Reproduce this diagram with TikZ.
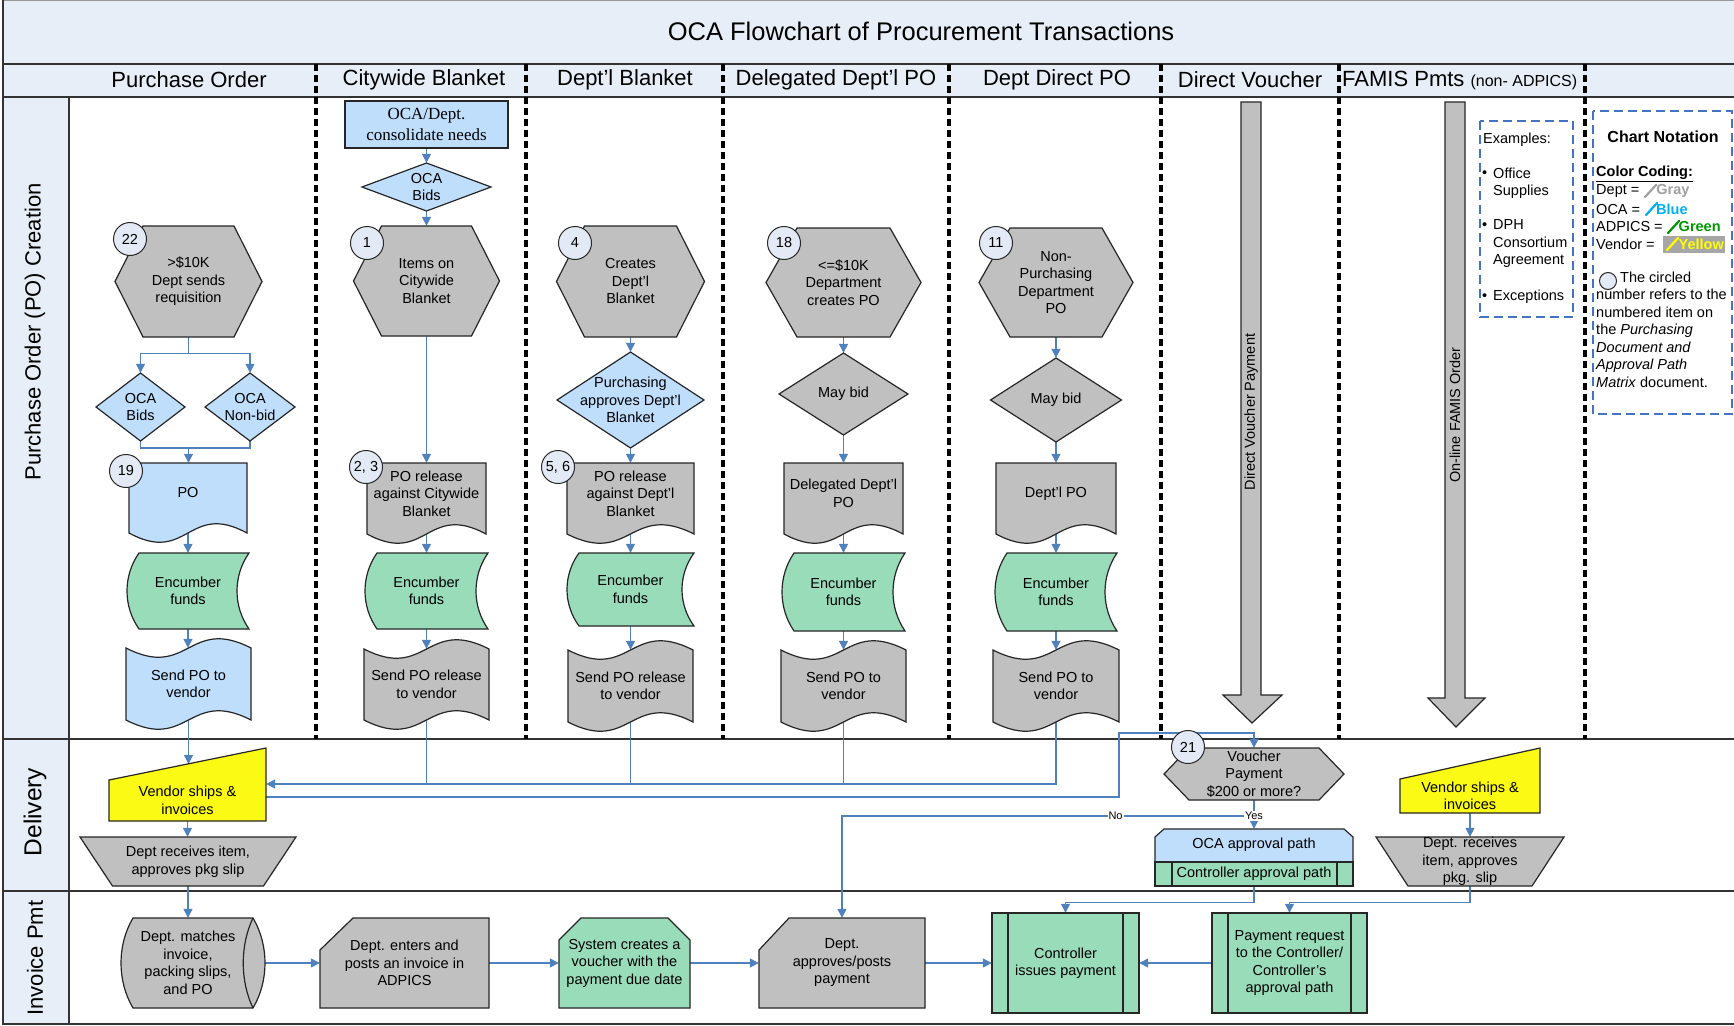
\documentclass[tikz,border=0pt]{standalone}
\usepackage{fontspec}
\setmainfont{Liberation Sans}
\newfontfamily\serifF{Liberation Serif}
\usetikzlibrary{arrows.meta,calc}
\pgfdeclarelayer{back}
\pgfdeclarelayer{bg}
\pgfsetlayers{back,bg,main}
\definecolor{bgblue}{RGB}{231,238,248}
\definecolor{bluef}{RGB}{191,222,252}
\definecolor{greenf}{RGB}{153,220,186}
\definecolor{grayf}{RGB}{192,192,192}
\definecolor{yellowf}{RGB}{250,250,20}
\definecolor{circfill}{RGB}{228,234,245}
\definecolor{linkblue}{RGB}{79,129,189}
\definecolor{dashblue}{RGB}{68,114,196}
\definecolor{penGray}{RGB}{160,160,160}
\definecolor{penBlue}{RGB}{0,176,240}
\definecolor{penGreen}{RGB}{0,150,0}
\definecolor{penYellow}{RGB}{255,255,0}
\definecolor{hlgray}{RGB}{166,166,166}
\newcommand\nodefont{\fontsize{14.5pt}{17.5pt}\selectfont}
\tikzset{
 shp/.style={draw=black!85, line width=1.2pt, line join=miter},
 txt/.style={inner sep=0pt, align=center, font=\nodefont},
 conn/.style={draw=linkblue, line width=1.3pt, -{Triangle[width=9pt,length=9pt]}},
 wire/.style={draw=linkblue, line width=1.3pt},
 circ/.style={circle, draw=black!85, line width=1pt, fill=circfill, minimum size=33pt, inner sep=0pt, font=\nodefont},
 divider/.style={line width=3.5pt, dash pattern=on 7pt off 4pt},
 frameline/.style={draw=black!80, line width=1.8pt},
 dashbox/.style={draw=dashblue, line width=2.2pt, dash pattern=on 9pt off 5pt},
 lbl/.style={font=\fontsize{11pt}{13pt}\selectfont, fill=white, inner sep=1pt},
 hdr/.style={font=\fontsize{22pt}{26pt}\selectfont, inner sep=0pt},
 legend/.style={font=\nodefont, inner sep=0pt, anchor=west, align=left},
 pencil/.style={line width=2.2pt, line cap=round},
}
% Hexagon: name cx cy w h d fill text
\newcommand\HexN[8]{%
 \draw[shp, fill=#7] (#2-#4/2,#3) -- (#2-#4/2+#6,#3-#5/2) -- (#2+#4/2-#6,#3-#5/2) -- (#2+#4/2,#3) -- (#2+#4/2-#6,#3+#5/2) -- (#2-#4/2+#6,#3+#5/2) -- cycle;
 \node[txt, minimum width=#4pt, minimum height=#5pt] (#1) at (#2,#3) {#8};}
% Diamond: name cx cy w h fill text
\newcommand\DiaN[7]{%
 \draw[shp, fill=#6] (#2-#4/2,#3) -- (#2,#3-#5/2) -- (#2+#4/2,#3) -- (#2,#3+#5/2) -- cycle;
 \node[txt, minimum width=#4pt, minimum height=#5pt] (#1) at (#2,#3) {#7};}
% Document: name L T R B fill text
\newcommand\DocN[7]{%
 \draw[shp, fill=#6] (#2,#3) -- (#4,#3) -- (#4,#5) .. controls ({(#2+#4)/2},#5-32) and ({(#2+#4)/2},#5+32) .. (#2,#5) -- cycle;
 \node[txt, minimum width=#4pt-#2pt, minimum height=#5pt-#3pt-10pt] (#1) at ({(#2+#4)/2},{(#3+#5-10)/2}) {#7};}
% Punched tape: name L T R B fill text
\newcommand\TapeN[7]{%
 \draw[shp, fill=#6] (#2,#3) .. controls ({(#2+#4)/2},#3+32) and ({(#2+#4)/2},#3-32) .. (#4,#3) -- (#4,#5) .. controls ({(#2+#4)/2},#5-32) and ({(#2+#4)/2},#5+32) .. (#2,#5) -- cycle;
 \node[txt, minimum width=#4pt-#2pt, minimum height=#5pt-#3pt] (#1) at ({(#2+#4)/2},{(#3+#5)/2}) {#7};}
% Stored data: name X0 T X1 B fill text
\newcommand\StoreN[7]{%
 \draw[shp, fill=#6] (#2+12,#3) -- (#4,#3) .. controls (#4-16,{#3+0.3*(#5-#3)}) and (#4-16,{#5-0.3*(#5-#3)}) .. (#4,#5) -- (#2+12,#5) .. controls (#2-4,{#5-0.3*(#5-#3)}) and (#2-4,{#3+0.3*(#5-#3)}) .. (#2+12,#3) -- cycle;
 \node[txt, minimum width=#4pt-#2pt, minimum height=#5pt-#3pt] (#1) at ({(#2+#4)/2},{(#3+#5)/2}) {#7};}
% Trapezoid: name cx T B tw bw fill text
\newcommand\TrapN[8]{%
 \draw[shp, fill=#7] (#2-#5/2,#3) -- (#2+#5/2,#3) -- (#2+#6/2,#4) -- (#2-#6/2,#4) -- cycle;
 \node[txt, minimum width=#6pt, minimum height=#4pt-#3pt] (#1) at (#2,{(#3+#4)/2}) {#8};}
% Manual input: name L TL R TR B fill text
\newcommand\ManN[8]{%
 \draw[shp, fill=#7] (#2,#3) -- (#4,#5) -- (#4,#6) -- (#2,#6) -- cycle;
 \node[txt, minimum width=#4pt-#2pt, minimum height=#6pt-#3pt] (#1) at ({(#2+#4)/2},{(#3+#6)/2}) {#8};}
% Card: name L T R B cx cy fill text
\newcommand\CardN[9]{%
 \draw[shp, fill=#8] (#2,#3+#7) -- (#2+#6,#3) -- (#4,#3) -- (#4,#5) -- (#2,#5) -- cycle;
 \node[txt, minimum width=#4pt-#2pt, minimum height=#5pt-#3pt] (#1) at ({(#2+#4)/2},{(#3+#5)/2}) {#9};}
% Top-chamfered box: name L T R B c fill text
\newcommand\ChamN[8]{%
 \draw[shp, fill=#7] (#2,#3+#6) -- (#2+#6,#3) -- (#4-#6,#3) -- (#4,#3+#6) -- (#4,#5) -- (#2,#5) -- cycle;
 \node[txt, minimum width=#4pt-#2pt, minimum height=#5pt-#3pt] (#1) at ({(#2+#4)/2},{(#3+#5)/2}) {#8};}
% Predefined process: name L T R B inset fill text
\newcommand\PredN[8]{%
 \draw[shp, fill=#7] (#2,#3) rectangle (#4,#5);
 \draw[shp] (#2+#6,#3) -- (#2+#6,#5) (#4-#6,#3) -- (#4-#6,#5);
 \node[txt, minimum width=#4pt-#2pt, minimum height=#5pt-#3pt] (#1) at ({(#2+#4)/2},{(#3+#5)/2}) {#8};}
\newcommand\vconn[2]{\draw[conn] (#1.south) -- (#1.south |- #2.north);}

\begin{document}
\begin{tikzpicture}[x=1pt,y=-1pt]
\useasboundingbox (0,0) rectangle (1734,1025);

\begin{pgfonlayer}{back}
\fill[white] (0,0) rectangle (1734,1025);
\fill[bgblue] (3,0) rectangle (1734,97);
\fill[bgblue] (3,97) rectangle (69,1024);
\draw[black!40, line width=1pt] (3,0.8) -- (1734,0.8);
\draw[frameline] (3,0) -- (3,1024) -- (1734,1024);
\foreach \yy in {64,97,739,891} \draw[frameline] (3,\yy) -- (1734,\yy);
\draw[frameline] (69,97) -- (69,1024);
\foreach \xx in {316,526,723,949,1161,1339,1585} \draw[divider] (\xx,64) -- (\xx,739);
\end{pgfonlayer}

% title, headers, lanes
\node[font=\fontsize{25.5pt}{30pt}\selectfont, inner sep=0pt] (title) at (921,31) {OCA Flowchart of Procurement Transactions};
\node[hdr] (hdPO) at (189,80) {Purchase Order};
\node[hdr] (hdCW) at (424,80) {Citywide Blanket};
\node[hdr] (hdDB) at (625,80) {Dept’l Blanket};
\node[hdr] (hdDL) at (836,80) {Delegated Dept’l PO};
\node[hdr] (hdDD) at (1057,80) {Dept Direct PO};
\node[hdr] (hdDV) at (1250,80) {Direct Voucher};
\node[hdr, anchor=west] (hdFA) at (1342,80) {FAMIS Pmts {\fontsize{16pt}{18pt}\selectfont (non- ADPICS)}};
\node[hdr, rotate=90] (lnPO) at (35,332) {Purchase Order (PO) Creation};
\node[font=\fontsize{24.5pt}{28pt}\selectfont, inner sep=0pt, rotate=90] (lnDL) at (35,812) {Delivery};
\node[hdr, rotate=90] (lnIP) at (35,958) {Invoice Pmt};

% Column 1
\HexN{h22}{188.5}{281.5}{147}{111}{28}{grayf}{>\$10K\\Dept sends\\requisition}
\DiaN{dBid1}{140.5}{407}{89}{68}{bluef}{OCA\\Bids}
\DiaN{dNon}{250}{407}{90}{68}{bluef}{OCA\\Non-bid}
\DocN{po}{129}{463}{247}{533}{bluef}{PO}
\StoreN{enc1}{127}{553}{249}{629}{greenf}{Encumber\\funds}
\TapeN{s1}{126}{648}{251}{720}{bluef}{Send PO to\\vendor}

% Column 2
\draw[shp, fill=bluef] (345,101) rectangle (508,148);
\node[txt, font=\serifF\fontsize{17pt}{21pt}\selectfont, minimum width=163pt, minimum height=47pt] (cons) at (426.5,124.5) {OCA/Dept.\\consolidate needs};
\DiaN{dBid2}{426.5}{187}{129}{48}{bluef}{OCA\\Bids}
\HexN{hItems}{426.5}{281}{146}{110}{28}{grayf}{Items on\\Citywide\\Blanket}
\DocN{rel2}{367}{463}{486}{534}{grayf}{PO release\\against Citywide\\Blanket}
\StoreN{enc2}{365}{553}{488}{629}{greenf}{Encumber\\funds}
\TapeN{s2}{364}{649}{489}{720}{grayf}{Send PO release\\to vendor}

% Column 3
\HexN{hCre}{630.5}{281.5}{148}{111}{28}{grayf}{Creates\\Dept’l\\Blanket}
\DiaN{dPur}{630.5}{400}{147}{96}{bluef}{Purchasing\\approves Dept’l\\Blanket}
\DocN{rel3}{567}{463}{694}{534}{grayf}{PO release\\against Dept’l\\Blanket}
\StoreN{enc3}{567}{553}{694}{626}{greenf}{Encumber\\funds}
\TapeN{s3}{568}{650}{693}{722}{grayf}{Send PO release\\to vendor}

% Column 4
\HexN{h18}{843.5}{282.5}{155}{109}{31}{grayf}{<=\$10K\\Department\\creates PO}
\DiaN{dMay4}{843.5}{394}{129}{82}{grayf}{May bid}
\DocN{del4}{784}{463}{903}{534}{grayf}{Delegated Dept’l\\PO}
\StoreN{enc4}{782}{553}{905}{631}{greenf}{Encumber\\funds}
\TapeN{s4}{781}{650}{906}{722}{grayf}{Send PO to\\vendor}

% Column 5
\HexN{h11}{1056}{282.5}{154}{109}{31}{grayf}{Non-\\Purchasing\\Department\\PO}
\DiaN{dMay5}{1056}{400}{131}{84}{grayf}{May bid}
\DocN{dpo5}{996}{463}{1116}{534}{grayf}{Dept’l PO}
\StoreN{enc5}{995}{553}{1117}{631}{greenf}{Encumber\\funds}
\TapeN{s5}{993}{650}{1119}{722}{grayf}{Send PO to\\vendor}

% Column 6 / 7 big arrows
\draw[shp, fill=grayf] (1241,102) -- (1261,102) -- (1261,695) -- (1282,695) -- (1252,723) -- (1223,695) -- (1241,695) -- cycle;
\node[font=\nodefont, inner sep=0pt, rotate=90] (dvtxt) at (1251,412) {Direct Voucher Payment};
\draw[shp, fill=grayf] (1445,102) -- (1465,102) -- (1465,698) -- (1485,698) -- (1456,727) -- (1428,698) -- (1445,698) -- cycle;
\node[font=\nodefont, inner sep=0pt, rotate=90] (famtxt) at (1455,415) {On-line FAMIS Order};

% Examples box
\draw[dashbox] (1480,121) rectangle (1573,317);
\node[legend] (exT) at (1483,140) {Examples:};
\node[legend] (b1) at (1482,174) {•};
\node[legend] (e1) at (1493,183) {Office\\Supplies};
\node[legend] (b2) at (1482,226) {•};
\node[legend] (e2) at (1493,244) {DPH\\Consortium\\Agreement};
\node[legend] (b3) at (1482,297) {•};
\node[legend] (e3) at (1493,297) {Exceptions};

% Chart notation box
\draw[dashbox] (1593,111) rectangle (1732,414);
\node[font=\bfseries\fontsize{16pt}{19pt}\selectfont, inner sep=0pt] (cnT) at (1663,137) {Chart Notation};
\node[legend] (cc) at (1596,174) {\textbf{\underline{Color Coding:}}};
\node[legend] (cDept) at (1596,191) {Dept = \hspace{13pt}\textbf{\textcolor{penGray}{Gray}}};
\node[legend] (cOCA) at (1596,209) {OCA = \hspace{12pt}\textbf{\textcolor{penBlue}{Blue}}};
\fill[hlgray] (1663,236) rectangle (1725,253);
\node[legend] (cAD) at (1596,227) {ADPICS = \hspace{12pt}\textbf{\textcolor{penGreen}{Green}}};
\node[legend] (cVen) at (1596,244) {Vendor = \hspace{20pt}\textbf{\textcolor{penYellow}{Yellow}}};
\draw[pencil, penGray] (1645,197) -- (1656,185);
\draw[pencil, penBlue] (1646,215) -- (1657,203);
\draw[pencil, penGreen] (1668,233) -- (1679,221);
\draw[pencil, penYellow] (1667,250) -- (1678,238);
\node[circ, minimum size=17pt] (icon) at (1608,281) {};
\node[legend, anchor=north west] (cnote) at (1596,271.5) {\hspace{24pt}The circled\\number refers to the\\numbered item on\\the \textit{Purchasing}\\\textit{Document and}\\\textit{Approval Path}\\\textit{Matrix} document.};

% Delivery lane
\ManN{v1}{109}{780}{266}{748}{821}{yellowf}{Vendor ships \&\\invoices}
\TrapN{dr1}{188}{837}{886}{216}{151}{grayf}{Dept receives item,\\approves pkg slip}
\HexN{vp}{1254}{774}{180}{52}{25}{grayf}{Voucher\\Payment\\\$200 or more?}
\draw[shp, fill=bluef] (1155,862) -- (1155,837) -- (1164,829) -- (1344,829) -- (1353,837) -- (1353,862) -- cycle;
\draw[shp, fill=greenf] (1155,862) rectangle (1353,886);
\draw[shp] (1172,862) -- (1172,886) (1337,862) -- (1337,886);
\node[minimum width=198pt, minimum height=57pt, inner sep=0pt] (oca) at (1254,857.5) {};
\node[txt] (ocaT) at (1254,845) {OCA approval path};
\node[txt] (ctlT) at (1254,874) {Controller approval path};
\ManN{v2}{1400}{779}{1540}{748}{813}{yellowf}{Vendor ships \&\\invoices}
\TrapN{dr2}{1470}{837}{886}{188}{124}{grayf}{Dept. receives\\item, approves\\pkg. slip}

% Invoice lane
\draw[shp, fill=grayf] (133,918) -- (253,918) .. controls (269,945) and (269,981) .. (253,1008) -- (133,1008) .. controls (117,981) and (117,945) .. (133,918) -- cycle;
\draw[shp] (253,918) .. controls (240,945) and (240,981) .. (253,1008);
\node[txt, minimum width=130pt, minimum height=90pt] (dm) at (188,963) {Dept. matches\\invoice,\\packing slips,\\and PO};
\CardN{de}{320}{918}{489}{1008}{33}{32}{grayf}{Dept. enters and\\posts an invoice in\\ADPICS}
\ChamN{sc}{559}{918}{690}{1008}{22}{greenf}{System creates a\\voucher with the\\payment due date}
\CardN{da}{759}{918}{925}{1008}{30}{32}{grayf}{Dept.\\approves/posts\\payment}
\PredN{ci}{992}{913}{1139}{1013}{16}{greenf}{Controller\\issues payment}
\PredN{pr}{1212}{913}{1367}{1013}{16}{greenf}{Payment request\\to the Controller/\\Controller’s\\approval path}

% numbered circles
\node[circ] (n22) at (130,239) {22};
\node[circ] (n1) at (367,243) {1};
\node[circ] (n4) at (575,243) {4};
\node[circ] (n18) at (784,243) {18};
\node[circ] (n11) at (996,243) {11};
\node[circ] (n19) at (126,471) {19};
\node[circ] (n23) at (366,467) {2, 3};
\node[circ] (n56) at (558,467) {5, 6};
\node[circ] (n21) at (1188,747) {21};

% connectors
\coordinate (bus) at (0,784);
\coordinate (r797) at (0,797);
\coordinate (r816) at (0,816);
\coordinate (v1in) at (188.5,764);
\coordinate (j1) at (188.5,448);
\coordinate (dvj) at (1119,733);
\begin{pgfonlayer}{bg}
% column 1
\draw[conn] (h22.south) -- ++(0,16) -| (dBid1.north);
\draw[conn] (h22.south) -- ++(0,16) -| (dNon.north);
\draw[wire] (dBid1.south) |- (j1) -| (dNon.south);
\draw[conn] (j1) -- (j1 |- po.north);
\vconn{po}{enc1}
\vconn{enc1}{s1}
\draw[conn] (s1.south) -- (s1.south |- v1in);
\vconn{v1}{dr1}
\vconn{dr1}{dm}
% column 2
\vconn{cons}{dBid2}
\vconn{dBid2}{hItems}
\vconn{hItems}{rel2}
\vconn{rel2}{enc2}
\vconn{enc2}{s2}
\draw[wire] (s2.south) -- (s2.south |- bus);
% column 3
\vconn{hCre}{dPur}
\vconn{dPur}{rel3}
\vconn{rel3}{enc3}
\vconn{enc3}{s3}
\draw[wire] (s3.south) -- (s3.south |- bus);
% column 4
\vconn{h18}{dMay4}
\vconn{dMay4}{del4}
\vconn{del4}{enc4}
\vconn{enc4}{s4}
\draw[wire] (s4.south) -- (s4.south |- bus);
% column 5
\vconn{h11}{dMay5}
\vconn{dMay5}{dpo5}
\vconn{dpo5}{enc5}
\vconn{enc5}{s5}
\draw[conn] (s5.south) |- (v1.east |- bus);
% vendor to voucher decision
\draw[conn] (v1.east |- r797) -| (dvj) -| (vp.north);
\draw[conn] (vp.south) -- (vp.south |- oca.north);
\draw[conn] (vp.south |- r816) -| (da.north) node[lbl, pos=0.168] {No};
\node[lbl] (yes) at (1254,816) {Yes};
\draw[conn] (oca.south) -- ++(0,16) -| (ci.north);
\vconn{v2}{dr2}
\draw[conn] (dr2.south) -- ++(0,16) -| (pr.north);
% invoice flow
\draw[conn] (dm.east) -- (de.west);
\draw[conn] (de.east) -- (sc.west);
\draw[conn] (sc.east) -- (da.west);
\draw[conn] (da.east) -- (ci.west);
\draw[conn] (pr.west) -- (ci.east);
\end{pgfonlayer}
\end{tikzpicture}
\end{document}
